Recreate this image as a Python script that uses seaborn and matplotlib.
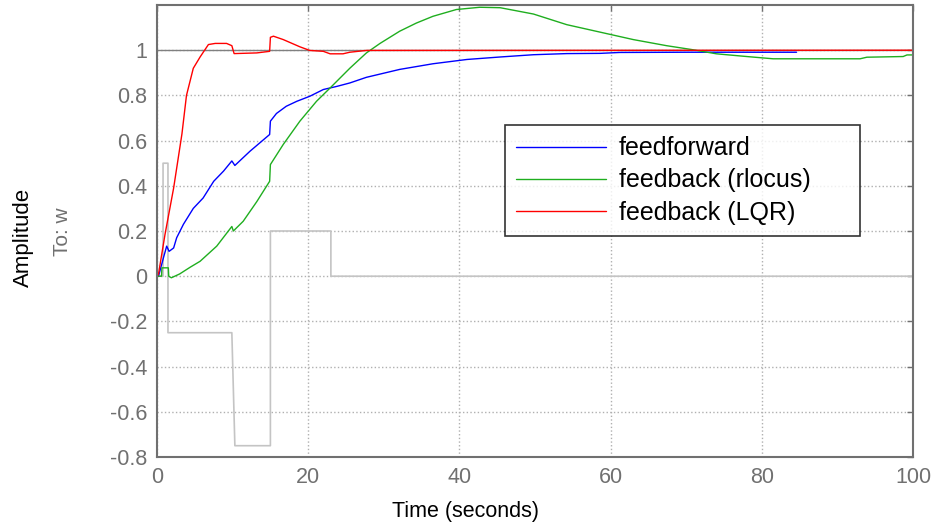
import numpy as np
import pandas as pd
import seaborn as sns
import matplotlib.pyplot as plt
from matplotlib.lines import Line2D

sns.set_theme(style="white")
plt.rcParams["font.family"] = ["Liberation Sans", "DejaVu Sans"]

# feedforward response (blue)
t_ff = [0, 0.2, 0.84, 1.28, 1.6, 2.2, 2.6, 3.5, 4.8, 6.1, 7.5, 8.8, 9.9, 10.3, 12.3,
        14.9, 15.0, 15.8, 17.1, 18.5, 20.2, 22.0, 23.8, 25.5, 27.7, 32.1, 36.5, 41,
        45.4, 49.8, 54.2, 58.6, 61.2, 70, 84.6]
y_ff = [0, 0, 0.08, 0.133, 0.11, 0.125, 0.17, 0.23, 0.30, 0.346, 0.42, 0.465, 0.51,
        0.49, 0.553, 0.627, 0.686, 0.72, 0.752, 0.774, 0.796, 0.826, 0.84, 0.855, 0.88,
        0.915, 0.94, 0.959, 0.97, 0.98, 0.985, 0.986, 0.99, 0.991, 0.991]

# feedback (rlocus) response (green)
t_rl = [0, 0.6, 0.65, 1.5, 1.55, 1.9, 3.0, 4.4, 5.7, 7.9, 9.9, 10.1, 11.4, 13.2, 14.9,
        15.0, 16.7, 18.9, 21.1, 22.9, 25.5, 27.7, 29.5, 32.1, 34.3, 36.5, 39.6, 42.7,
        45.4, 49.8, 54.2, 58.6, 63, 67.4, 70.7, 74, 78, 81.5, 93, 93.9, 98.7, 99.2, 100]
y_rl = [0, 0, 0.037, 0.037, 0, -0.007, 0.01, 0.04, 0.066, 0.133, 0.22, 0.20, 0.243,
        0.33, 0.42, 0.494, 0.583, 0.686, 0.774, 0.833, 0.92, 0.988, 1.03, 1.084, 1.12,
        1.15, 1.18, 1.19, 1.188, 1.16, 1.113, 1.08, 1.047, 1.02, 1.003, 0.984, 0.972,
        0.962, 0.962, 0.969, 0.972, 0.979, 0.979]

# feedback (LQR) response (red)
t_lqr = [0, 0.2, 1.06, 2.2, 3.3, 3.9, 4.8, 5.7, 6.8, 7.7, 9.2, 9.9, 10.2, 13.2, 14.9,
         15.0, 15.4, 16.7, 18.9, 20.2, 22.0, 22.9, 24.6, 25.5, 27.7, 100]
y_lqr = [0, 0.01, 0.185, 0.39, 0.63, 0.80, 0.92, 0.97, 1.025, 1.03, 1.03, 1.02, 0.985,
         0.988, 0.995, 1.057, 1.062, 1.047, 1.015, 0.999, 0.995, 0.984, 0.984, 0.991,
         0.999, 1.0]

# grey input signal
t_w = [0, 0.8, 0.8, 1.45, 1.45, 9.9, 10.3, 15.0, 15.0, 23.0, 23.0, 100]
y_w = [0, 0, 0.5, 0.5, -0.25, -0.25, -0.75, -0.75, 0.2, 0.2, 0, 0]

series_names = ["feedforward", "feedback (rlocus)", "feedback (LQR)"]
series_colors = ["#0000ff", "#1fae1f", "#ff0000"]

x_ticks = [0, 20, 40, 60, 80, 100]
y_ticks = [-0.8, -0.6, -0.4, -0.2, 0, 0.2, 0.4, 0.6, 0.8, 1]
y_tick_labels = ["-0.8", "-0.6", "-0.4", "-0.2", "0", "0.2", "0.4", "0.6", "0.8", "1"]

fig = plt.figure(figsize=(9.42, 5.26), dpi=100)
ax = fig.add_axes([157 / 942, 1 - 457 / 526, 756 / 942, 452 / 526])

ax.axhline(1, color="#808080", lw=1.0, zorder=1)

sns.lineplot(x=t_w, y=y_w, ax=ax, sort=False, estimator=None, color="#c4c4c4", lw=1.2)
data = [(t_ff, y_ff), (t_rl, y_rl), (t_lqr, y_lqr)]
for (tt, yy), name, col in zip(data, series_names, series_colors):
    sns.lineplot(x=tt, y=yy, ax=ax, sort=False, estimator=None, color=col, lw=1.0)

ax.set_xlim(0, 100)
ax.set_ylim(-0.8, 1.2)
ax.set_xticks(x_ticks)
ax.set_yticks(y_ticks)
ax.set_yticklabels(y_tick_labels)
ax.grid(True, linestyle=":", color="#b0b0b0", lw=1.0)
ax.tick_params(direction="in", length=4, width=1, color="#707070", labelcolor="#707070",
               labelsize=15.5, top=True, right=True, pad=7)
for s in ax.spines.values():
    s.set_color("#707070")
    s.set_linewidth(1.5)
    s.set_visible(True)
ax.set_xlabel("")
ax.set_ylabel("")

fig.text(465 / 942, 1 - 512 / 526, "Time (seconds)", ha="center", va="center",
         fontsize=15.5, color="black")
fig.text(23 / 942, 1 - 237 / 526, "Amplitude", ha="center", va="center",
         rotation=90, fontsize=16, color="black")
fig.text(63 / 942, 1 - 232 / 526, "To: w", ha="center", va="center",
         rotation=90, fontsize=15, color="#707070")

handles = [Line2D([], [], color=c, lw=1.0) for c in series_colors]
leg = ax.legend(handles, series_names, loc="upper left",
                bbox_to_anchor=(505 / 942, 1 - 232 / 526, 355 / 942, 107 / 526),
                bbox_transform=fig.transFigure, mode="expand", frameon=True,
                fancybox=False, fontsize=18, handlelength=3.6, handletextpad=0.5,
                borderpad=0.45, labelspacing=0.33, borderaxespad=0,
                labelcolor="black")
leg.get_frame().set_edgecolor("black")
leg.get_frame().set_linewidth(1.2)

fig.savefig("out.png", dpi=100)
